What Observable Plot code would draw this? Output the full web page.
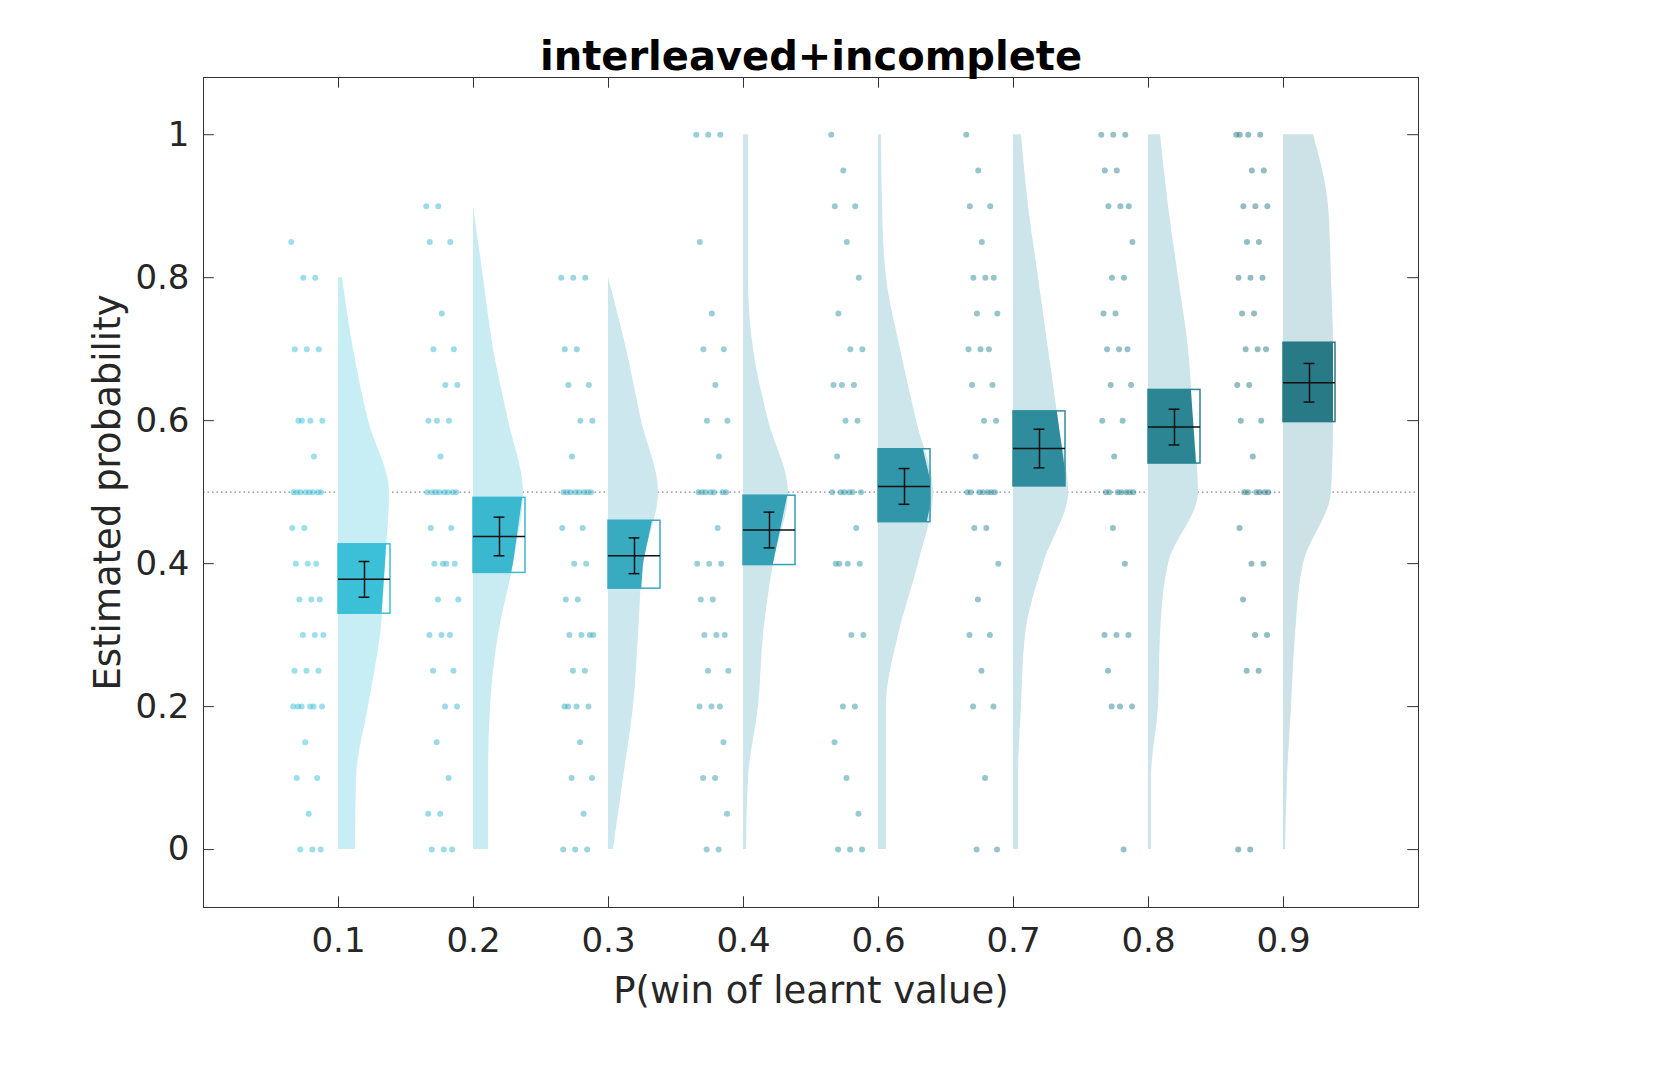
<!DOCTYPE html>
<html>
<head>
<meta charset="utf-8">
<script src="https://cdn.jsdelivr.net/npm/d3@7"></script>
<script src="https://cdn.jsdelivr.net/npm/@observablehq/plot@0.6"></script>
<style>
body { margin: 0; background: #fff; font-family: "DejaVu Sans", sans-serif; }
</style>
</head>
<body>
<div id="chart"></div>
<script>
// categories and colours
let cats = ["0.1", "0.2", "0.3", "0.4", "0.6", "0.7", "0.8", "0.9"];
let boxColor = ["#3bc0d8", "#3ab8cf", "#38abc1", "#35a0b5", "#3196aa", "#2e8c9d", "#2b8592", "#287a87"];
let cloudColor = ["#c8eef5", "#c9ecf3", "#cce7ed", "#cce6eb", "#cce6eb", "#cce5ea", "#cce5ea", "#cce2e6"];

// mean, sem, box low / high
let means = [0.378, 0.438, 0.411, 0.447, 0.508, 0.561, 0.591, 0.653];
let sems = [0.025, 0.027, 0.025, 0.025, 0.025, 0.027, 0.025, 0.027];
let boxLo = [0.330, 0.387, 0.365, 0.398, 0.458, 0.508, 0.540, 0.598];
let boxHi = [0.427, 0.492, 0.460, 0.495, 0.560, 0.613, 0.643, 0.709];

// half-violin widths (px at 135px per category) at y = 0, 0.1, ... 1
let densY = [0, 0.1, 0.2, 0.3, 0.4, 0.5, 0.6, 0.7, 0.8, 0.9, 1.0];
let densW = [
  [17, 18, 30, 42, 47, 51, 30, 15, 4, null, null],
  [15, 15, 17, 25, 40, 50, 35, 20, 10, 0, null],
  [5, 15, 25, 30, 35, 50, 33, 18, 0, null, null],
  [3, 5, 15, 20, 30, 45, 25, 10, 5, 5, 5],
  [8, 8, 8, 20, 40, 55, 38, 22, 8, 4, 3],
  [5, 5, 8, 12, 30, 55, 45, 35, 25, 15, 8],
  [3, 3, 10, 12, 20, 50, 45, 40, 30, 20, 12],
  [2, 4, 8, 12, 20, 48, 50, 50, 48, 45, 30]
];

// individual responses per category
let points = [
  [0.85,0.8,0.8,0.7,0.7,0.7,0.6,0.6,0.6,0.6,0.55,0.5,0.5,0.5,0.5,0.5,0.5,0.5,0.5,0.45,0.45,0.4,0.4,0.4,0.35,0.35,0.35,0.3,0.3,0.3,0.25,0.25,0.25,0.2,0.2,0.2,0.2,0.2,0.2,0.15,0.1,0.1,0.05,0,0,0],
  [0.9,0.9,0.85,0.85,0.75,0.7,0.7,0.65,0.65,0.6,0.6,0.6,0.55,0.5,0.5,0.5,0.5,0.5,0.5,0.5,0.5,0.45,0.45,0.4,0.4,0.4,0.4,0.35,0.35,0.3,0.3,0.3,0.25,0.25,0.2,0.2,0.15,0.1,0.05,0.05,0,0,0],
  [0.8,0.8,0.8,0.7,0.7,0.65,0.65,0.6,0.6,0.55,0.5,0.5,0.5,0.5,0.5,0.5,0.5,0.5,0.45,0.45,0.4,0.4,0.35,0.35,0.3,0.3,0.3,0.3,0.25,0.25,0.2,0.2,0.2,0.2,0.15,0.1,0.1,0.05,0,0,0],
  [1,1,1,0.85,0.75,0.7,0.7,0.65,0.6,0.6,0.55,0.5,0.5,0.5,0.5,0.5,0.5,0.5,0.45,0.4,0.4,0.4,0.35,0.35,0.3,0.3,0.3,0.25,0.25,0.2,0.2,0.2,0.15,0.1,0.1,0.05,0,0],
  [1,0.95,0.9,0.9,0.85,0.8,0.75,0.7,0.7,0.65,0.65,0.65,0.6,0.6,0.55,0.5,0.5,0.5,0.5,0.5,0.5,0.45,0.4,0.4,0.4,0.4,0.3,0.3,0.2,0.2,0.15,0.1,0.05,0,0,0],
  [1,0.95,0.9,0.9,0.85,0.8,0.8,0.8,0.75,0.75,0.7,0.7,0.7,0.65,0.65,0.6,0.6,0.55,0.5,0.5,0.5,0.5,0.5,0.5,0.5,0.45,0.45,0.4,0.35,0.3,0.3,0.25,0.2,0.2,0.1,0,0],
  [1,1,1,0.95,0.95,0.9,0.9,0.9,0.85,0.8,0.8,0.75,0.75,0.7,0.7,0.7,0.65,0.65,0.6,0.6,0.55,0.5,0.5,0.5,0.5,0.5,0.5,0.5,0.45,0.4,0.3,0.3,0.3,0.25,0.2,0.2,0.2,0],
  [1,1,1,1,0.95,0.95,0.9,0.9,0.9,0.85,0.85,0.8,0.8,0.8,0.75,0.75,0.7,0.7,0.7,0.65,0.65,0.6,0.6,0.55,0.5,0.5,0.5,0.5,0.5,0.5,0.45,0.4,0.4,0.35,0.3,0.3,0.25,0.25,0,0]
];

let yTicks = [0, 0.2, 0.4, 0.6, 0.8, 1];
let yTickLabels = ["0", "0.2", "0.4", "0.6", "0.8", "1"];

const px = 1 / 135;
const boxW = 52 * px;

let dotData = [], cloudData = [], fillData = [], boxData = [];
cats.forEach((c, i) => {
  let pos = i + 1;
  points[i].forEach((v, j) => {
    let off = -0.35 + ((j * 37) % 100) / 100 * 0.24;
    dotData.push({x: pos + off, y: v, c: i});
  });
  densY.forEach((y, k) => {
    let w = densW[i][k];
    if (w != null) cloudData.push({x1: pos, x2: pos + w * px, y: y, c: i});
  });
  boxData.push({c: i, x1: pos, x2: pos + boxW, y1: boxLo[i], y2: boxHi[i], m: means[i], s: sems[i]});
  // box fill clipped to the cloud outline
  let steps = 12;
  for (let k = 0; k <= steps; k++) {
    let y = boxLo[i] + (boxHi[i] - boxLo[i]) * k / steps;
    let w = d3.scaleLinear().domain(densY).range(densW[i].map(v => v == null ? 0 : v))(y);
    fillData.push({c: i, x1: pos, x2: pos + Math.min(boxW, w * px), y: y});
  }
});

let marks = [
  Plot.ruleY([0.5], {stroke: "#888", strokeDasharray: "1.5,3", strokeWidth: 1.2}),
  ...cats.map((c, i) => Plot.areaX(cloudData.filter(d => d.c == i), {x1: "x1", x2: "x2", y: "y", fill: cloudColor[i], curve: "monotone-y"})),
  Plot.dot(dotData, {x: "x", y: "y", r: 3, fill: d => boxColor[d.c], fillOpacity: 0.5, stroke: null}),
  ...cats.map((c, i) => Plot.areaX(fillData.filter(d => d.c == i), {x1: "x1", x2: "x2", y: "y", fill: boxColor[i]})),
  Plot.rect(boxData, {x1: "x1", x2: "x2", y1: "y1", y2: "y2", fill: "none", stroke: d => boxColor[d.c], strokeWidth: 1.5}),
  Plot.ruleY(boxData, {x1: "x1", x2: "x2", y: "m", stroke: "#111", strokeWidth: 1.5}),
  Plot.ruleX(boxData, {x: d => d.x1 + boxW / 2, y1: d => d.m - d.s, y2: d => d.m + d.s, stroke: "#111", strokeWidth: 1.5}),
  Plot.ruleY(boxData, {x1: d => d.x1 + boxW / 2 - 0.04, x2: d => d.x1 + boxW / 2 + 0.04, y: d => d.m - d.s, stroke: "#111", strokeWidth: 1.5}),
  Plot.ruleY(boxData, {x1: d => d.x1 + boxW / 2 - 0.04, x2: d => d.x1 + boxW / 2 + 0.04, y: d => d.m + d.s, stroke: "#111", strokeWidth: 1.5}),
  // inward ticks (box style)
  Plot.ruleY(yTicks, {x1: 0, x2: 0.08, stroke: "#333"}),
  Plot.ruleY(yTicks, {x1: 8.92, x2: 9, stroke: "#333"}),
  Plot.ruleX(cats.map((c, i) => i + 1), {y1: -0.081, y2: -0.066, stroke: "#333"}),
  Plot.ruleX(cats.map((c, i) => i + 1), {y1: 1.065, y2: 1.08, stroke: "#333"}),
  Plot.frame({stroke: "#333"}),
  Plot.text(["interleaved+incomplete"], {frameAnchor: "top", dy: -36, fontSize: 40, fontWeight: "bold", fill: "#000"})
];

let plot = Plot.plot({
  width: 1662,
  height: 1080,
  marginLeft: 203,
  marginRight: 244,
  marginTop: 77,
  marginBottom: 173,
  style: {fontFamily: "DejaVu Sans", fontSize: "34px", color: "#262626", background: "#fff"},
  x: {domain: [0, 9], ticks: cats.map((c, i) => i + 1), tickFormat: v => cats[v - 1], tickSize: 0, tickPadding: 20, label: "P(win of learnt value)", labelArrow: false, labelAnchor: "center", labelOffset: 95},
  y: {domain: [-0.081, 1.08], ticks: yTicks, tickFormat: v => yTickLabels[yTicks.indexOf(v)], tickSize: 0, tickPadding: 14, label: "Estimated probability", labelArrow: false, labelAnchor: "center", labelOffset: 110},
  marks: marks
});
// axis label sizes
plot.querySelectorAll("g[aria-label='x-axis label'] text, g[aria-label='y-axis label'] text").forEach(t => t.style.fontSize = "37px");
document.querySelector("#chart").append(plot);
</script>
</body>
</html>
